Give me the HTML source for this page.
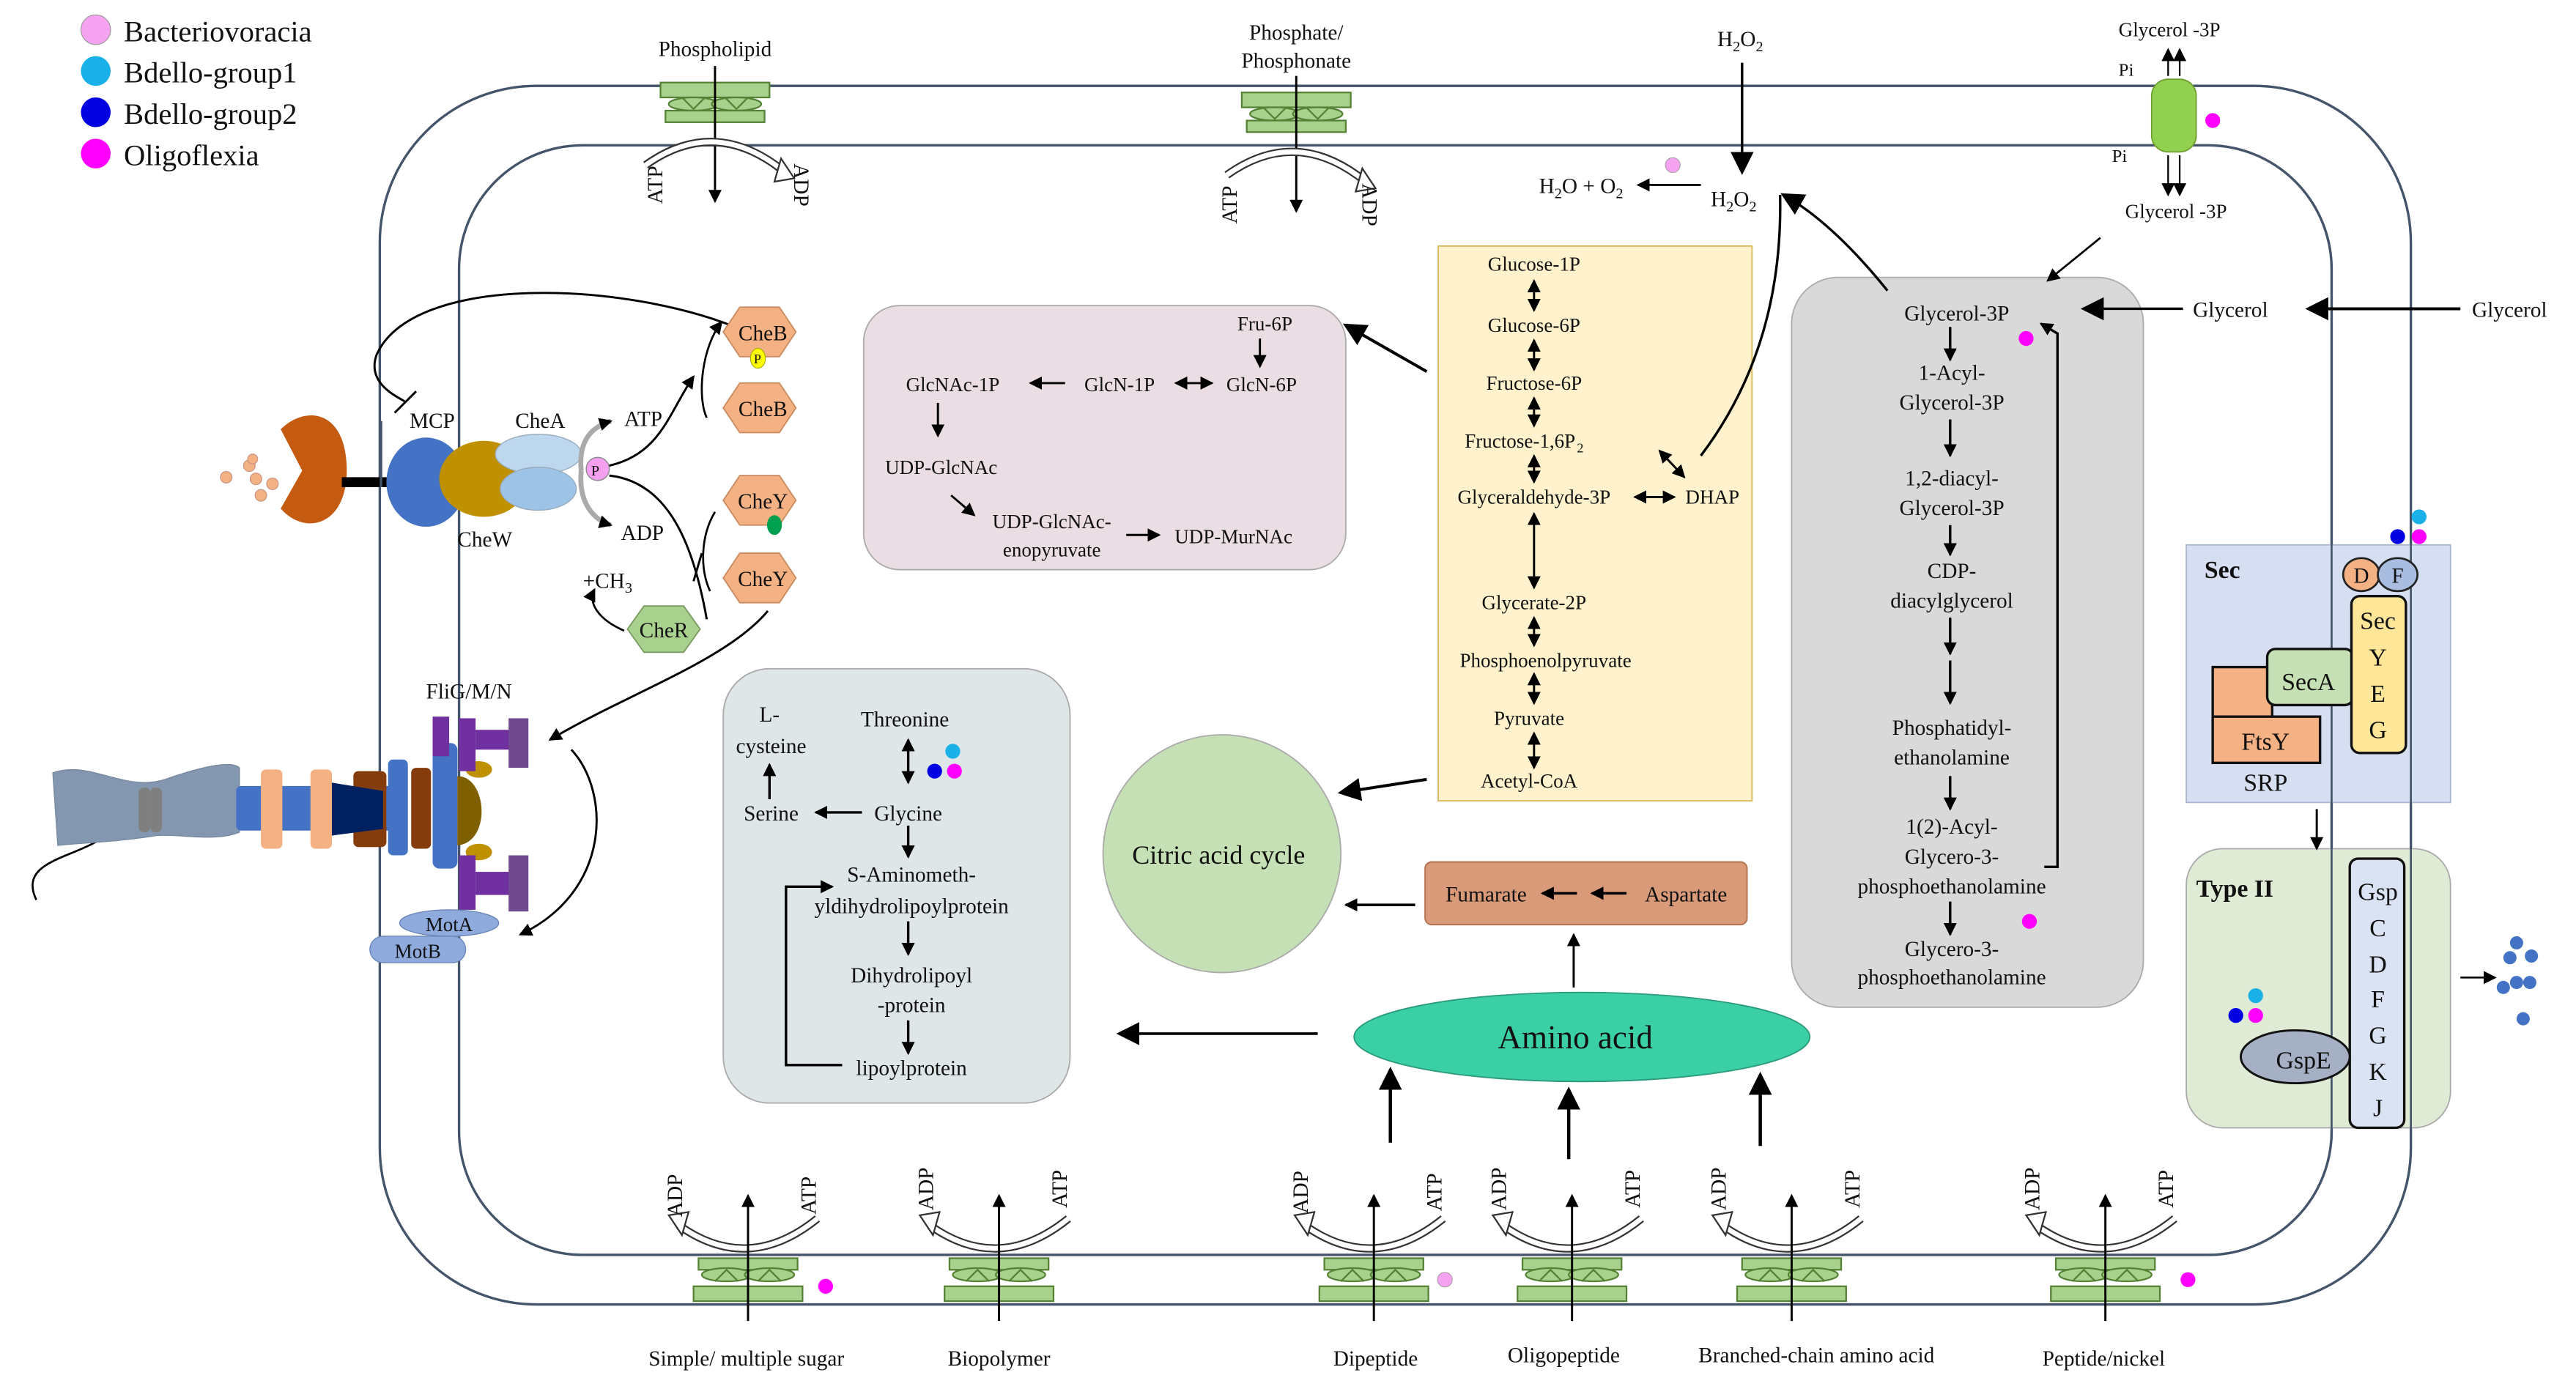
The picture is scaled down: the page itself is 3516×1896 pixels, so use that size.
<!DOCTYPE html>
<html><head><meta charset="utf-8"><style>
html,body{margin:0;padding:0;background:#fff;}
svg{display:block;}
text{font-family:"Liberation Serif",serif;fill:#111;}
</style></head><body>
<svg width="3516" height="1896" viewBox="0 0 1560 841.2" preserveAspectRatio="none" xmlns="http://www.w3.org/2000/svg">
<defs>
<marker id="a" markerWidth="8" markerHeight="8" refX="7" refY="4" orient="auto" markerUnits="userSpaceOnUse"><path d="M0,0 L8,4 L0,8 z" fill="#000"/></marker>
<marker id="b" markerWidth="14" markerHeight="14" refX="12" refY="7" orient="auto" markerUnits="userSpaceOnUse"><path d="M0,0 L14,7 L0,14 z" fill="#000"/></marker>
<marker id="as" markerWidth="8" markerHeight="8" refX="1" refY="4" orient="auto" markerUnits="userSpaceOnUse"><path d="M8,0 L0,4 L8,8 z" fill="#000"/></marker>
<g id="tb">
 <path d="M-42,742 Q0,772 42,738" fill="none" stroke="#333" stroke-width="5"/>
 <path d="M-42,742 Q0,772 42,738" fill="none" stroke="#fff" stroke-width="3"/>
 <path d="M-48,736 L-36,734 L-40,748 z" fill="#fff" stroke="#333"/>
 <rect x="-30" y="762" width="60" height="7" fill="#a9d18e" stroke="#548235"/>
 <ellipse cx="-13" cy="772" rx="15" ry="4" fill="#a9d18e" stroke="#548235"/>
 <ellipse cx="13" cy="772" rx="15" ry="4" fill="#a9d18e" stroke="#548235"/>
 <path d="M-20,776 L-13,769 L-6,776 M6,776 L13,769 L20,776" fill="none" stroke="#548235"/>
 <rect x="-33" y="779" width="66" height="9" fill="#a9d18e" stroke="#548235"/>
 <line x1="0" y1="800" x2="0" y2="724" stroke="#000" stroke-width="1.3" marker-end="url(#a)"/>
</g>
<g id="tt">
 <rect x="-33" y="50" width="66" height="9" fill="#a9d18e" stroke="#548235"/>
 <ellipse cx="-13" cy="63" rx="15" ry="4" fill="#a9d18e" stroke="#548235"/>
 <ellipse cx="13" cy="63" rx="15" ry="4" fill="#a9d18e" stroke="#548235"/>
 <path d="M-20,59 L-13,66 L-6,59 M6,59 L13,66 L20,59" fill="none" stroke="#548235"/>
 <rect x="-30" y="67" width="60" height="7" fill="#a9d18e" stroke="#548235"/>
 <line x1="0" y1="40" x2="0" y2="122" stroke="#000" stroke-width="1.3" marker-end="url(#a)"/>
 <path d="M-42,100 Q0,70 42,104" fill="none" stroke="#333" stroke-width="5"/>
 <path d="M-42,100 Q0,70 42,104" fill="none" stroke="#fff" stroke-width="3"/>
 <path d="M48,108 L36,110 L40,96 z" fill="#fff" stroke="#333"/>
</g>
</defs>

<!-- legend -->
<circle cx="58" cy="18" r="9" fill="#f5a3f0" stroke="#999" stroke-width="0.5"/>
<circle cx="58" cy="43" r="9" fill="#1ab0e8"/>
<circle cx="58" cy="68" r="9" fill="#0000e0"/>
<circle cx="58" cy="93" r="9" fill="#ff00ff"/>
<text x="75" y="25" font-size="18">Bacteriovoracia</text>
<text x="75" y="50" font-size="18">Bdello-group1</text>
<text x="75" y="75" font-size="18">Bdello-group2</text>
<text x="75" y="100" font-size="18">Oligoflexia</text>

<!-- membranes -->
<rect x="230" y="52" width="1230" height="738" rx="95" fill="none" stroke="#44546a" stroke-width="1.5"/>
<rect x="278" y="88" width="1134" height="672" rx="75" fill="none" stroke="#44546a" stroke-width="1.5"/>

<!-- boxes -->
<rect x="871" y="149" width="190" height="336" fill="#fff2cc" stroke="#d6b656" stroke-width="0.8"/>
<rect x="523" y="185" width="292" height="160" rx="22" fill="#eadde4" stroke="#aaa" stroke-width="0.8"/>
<rect x="1085" y="168" width="213" height="442" rx="28" fill="#d9d9d9" stroke="#aaa" stroke-width="0.8"/>
<rect x="438" y="405" width="210" height="263" rx="28" fill="#dee6e8" stroke="#aaa" stroke-width="0.8"/>
<circle cx="740" cy="517" r="72" fill="#c5e0b4" stroke="#aaa" stroke-width="0.8"/>
<rect x="863" y="522" width="195" height="38" rx="4" fill="#d99a79" stroke="#b07050" stroke-width="0.8"/>
<ellipse cx="958" cy="628" rx="138" ry="27" fill="#3acfa5" stroke="#2a9a7a" stroke-width="0.8"/>
<rect x="1324" y="330" width="160" height="156" fill="#d6dff2" stroke="#a9b5d0" stroke-width="0.8"/>
<rect x="1324" y="514" width="160" height="169" rx="22" fill="#dfebd5" stroke="#aaa" stroke-width="0.8"/>
<!-- redraw right membrane lines over boxes -->
<line x1="1412" y1="300" x2="1412" y2="690" stroke="#44546a" stroke-width="1.2"/>
<line x1="1460" y1="300" x2="1460" y2="690" stroke="#44546a" stroke-width="1.2"/>

<!-- top transporters -->
<use href="#tt" transform="translate(433,0)"/>
<use href="#tt" transform="translate(785,6)"/>
<text x="433" y="34" font-size="13" text-anchor="middle">Phospholipid</text>
<text x="785" y="24" font-size="13" text-anchor="middle">Phosphate/</text>
<text x="785" y="41" font-size="13" text-anchor="middle">Phosphonate</text>
<text transform="translate(401,112) rotate(-90)" font-size="13" text-anchor="middle">ATP</text>
<text transform="translate(481,112) rotate(90)" font-size="13" text-anchor="middle">ADP</text>
<text transform="translate(749,124) rotate(-90)" font-size="13" text-anchor="middle">ATP</text>
<text transform="translate(825,124) rotate(90)" font-size="13" text-anchor="middle">ADP</text>

<!-- H2O2 -->
<text x="1040" y="28" font-size="13">H<tspan font-size="9" dy="3">2</tspan><tspan dy="-3">O</tspan><tspan font-size="9" dy="3">2</tspan></text>
<line x1="1055" y1="38" x2="1055" y2="104" stroke="#000" stroke-width="1.5" marker-end="url(#b)"/>
<text x="1036" y="125" font-size="13">H<tspan font-size="9" dy="3">2</tspan><tspan dy="-3">O</tspan><tspan font-size="9" dy="3">2</tspan></text>
<line x1="1030" y1="112" x2="992" y2="112" stroke="#000" stroke-width="1.3" marker-end="url(#a)"/>
<text x="932" y="117" font-size="13">H<tspan font-size="9" dy="3">2</tspan><tspan dy="-3">O + O</tspan><tspan font-size="9" dy="3">2</tspan></text>
<circle cx="1013" cy="100" r="4.5" fill="#f5a3f0" stroke="#999" stroke-width="0.4"/>
<path d="M1030,276 Q1080,210 1078,118" fill="none" stroke="#000" stroke-width="1.5"/>
<path d="M1143,176 Q1110,135 1080,118" fill="none" stroke="#000" stroke-width="1.5" marker-end="url(#b)"/>

<!-- glycerol channel -->
<rect x="1303" y="48" width="27" height="44" rx="10" fill="#92d050" stroke="#70a030" stroke-width="0.8"/>
<circle cx="1340" cy="73" r="4.5" fill="#ff00ff"/>
<text x="1283" y="22" font-size="12">Glycerol -3P</text>
<text x="1283" y="46" font-size="11">Pi</text>
<text x="1279" y="98" font-size="11">Pi</text>
<text x="1287" y="132" font-size="12">Glycerol -3P</text>
<line x1="1313" y1="46" x2="1313" y2="30" stroke="#000" stroke-width="1" marker-end="url(#a)"/>
<line x1="1320" y1="46" x2="1320" y2="30" stroke="#000" stroke-width="1" marker-end="url(#a)"/>
<line x1="1313" y1="94" x2="1313" y2="118" stroke="#000" stroke-width="1" marker-end="url(#a)"/>
<line x1="1320" y1="94" x2="1320" y2="118" stroke="#000" stroke-width="1" marker-end="url(#a)"/>
<line x1="1272" y1="144" x2="1240" y2="170" stroke="#000" stroke-width="1.2" marker-end="url(#a)"/>
<text x="1497" y="192" font-size="13">Glycerol</text>
<line x1="1490" y1="187" x2="1398" y2="187" stroke="#000" stroke-width="1.8" marker-end="url(#b)"/>
<text x="1328" y="192" font-size="13">Glycerol</text>
<line x1="1322" y1="187" x2="1262" y2="187" stroke="#000" stroke-width="1.5" marker-end="url(#b)"/>

<!-- yellow glycolysis -->
<g font-size="12" text-anchor="middle">
<text x="929" y="164">Glucose-1P</text>
<text x="929" y="201">Glucose-6P</text>
<text x="929" y="236">Fructose-6P</text>
<text x="954" y="271" text-anchor="end">Fructose-1,6P</text><text x="957" y="274" font-size="8">2</text>
<text x="929" y="305">Glyceraldehyde-3P</text>
<text x="1037" y="305">DHAP</text>
<text x="929" y="369">Glycerate-2P</text>
<text x="936" y="404">Phosphoenolpyruvate</text>
<text x="926" y="439">Pyruvate</text>
<text x="926" y="477">Acetyl-CoA</text>
</g>
<g stroke="#000" stroke-width="1.3">
<line x1="929" y1="170" x2="929" y2="188" marker-end="url(#a)" marker-start="url(#as)"/>
<line x1="929" y1="206" x2="929" y2="224" marker-end="url(#a)" marker-start="url(#as)"/>
<line x1="929" y1="241" x2="929" y2="258" marker-end="url(#a)" marker-start="url(#as)"/>
<line x1="929" y1="276" x2="929" y2="292" marker-end="url(#a)" marker-start="url(#as)"/>
<line x1="929" y1="311" x2="929" y2="356" marker-end="url(#a)" marker-start="url(#as)"/>
<line x1="929" y1="374" x2="929" y2="391" marker-end="url(#a)" marker-start="url(#as)"/>
<line x1="929" y1="408" x2="929" y2="426" marker-end="url(#a)" marker-start="url(#as)"/>
<line x1="929" y1="444" x2="929" y2="465" marker-end="url(#a)" marker-start="url(#as)"/>
<line x1="990" y1="301" x2="1014" y2="301" marker-end="url(#a)" marker-start="url(#as)"/>
<line x1="1005" y1="273" x2="1020" y2="289" marker-end="url(#a)" marker-start="url(#as)"/>
</g>
<line x1="864" y1="225" x2="815" y2="197" stroke="#000" stroke-width="1.8" marker-end="url(#b)"/>
<line x1="864" y1="472" x2="812" y2="480" stroke="#000" stroke-width="1.8" marker-end="url(#b)"/>

<!-- pink box -->
<g font-size="12">
<text x="766" y="200" text-anchor="middle">Fru-6P</text>
<text x="764" y="237" text-anchor="middle">GlcN-6P</text>
<text x="678" y="237" text-anchor="middle">GlcN-1P</text>
<text x="577" y="237" text-anchor="middle">GlcNAc-1P</text>
<text x="570" y="287" text-anchor="middle">UDP-GlcNAc</text>
<text x="637" y="320" text-anchor="middle">UDP-GlcNAc-</text>
<text x="637" y="337" text-anchor="middle">enopyruvate</text>
<text x="747" y="329" text-anchor="middle">UDP-MurNAc</text>
</g>
<g stroke="#000" stroke-width="1.3">
<line x1="763" y1="205" x2="763" y2="222" marker-end="url(#a)"/>
<line x1="712" y1="232" x2="734" y2="232" marker-end="url(#a)" marker-start="url(#as)"/>
<line x1="645" y1="232" x2="624" y2="232" marker-end="url(#a)"/>
<line x1="568" y1="244" x2="568" y2="264" marker-end="url(#a)"/>
<line x1="576" y1="300" x2="590" y2="312" marker-end="url(#a)"/>
<line x1="682" y1="324" x2="702" y2="324" marker-end="url(#a)"/>
</g>

<!-- gray box -->
<g font-size="13" text-anchor="middle">
<text x="1185" y="194">Glycerol-3P</text>
<text x="1182" y="230">1-Acyl-</text>
<text x="1182" y="248">Glycerol-3P</text>
<text x="1182" y="294">1,2-diacyl-</text>
<text x="1182" y="312">Glycerol-3P</text>
<text x="1182" y="350">CDP-</text>
<text x="1182" y="368">diacylglycerol</text>
<text x="1182" y="445">Phosphatidyl-</text>
<text x="1182" y="463">ethanolamine</text>
<text x="1182" y="505">1(2)-Acyl-</text>
<text x="1182" y="523">Glycero-3-</text>
<text x="1182" y="541">phosphoethanolamine</text>
<text x="1182" y="579">Glycero-3-</text>
<text x="1182" y="596">phosphoethanolamine</text>
</g>
<circle cx="1227" cy="205" r="4.5" fill="#ff00ff"/>
<circle cx="1229" cy="558" r="4.5" fill="#ff00ff"/>
<g stroke="#000" stroke-width="1.5">
<line x1="1181" y1="198" x2="1181" y2="218" marker-end="url(#a)"/>
<line x1="1181" y1="254" x2="1181" y2="276" marker-end="url(#a)"/>
<line x1="1181" y1="318" x2="1181" y2="336" marker-end="url(#a)"/>
<line x1="1181" y1="374" x2="1181" y2="396" marker-end="url(#a)"/>
<line x1="1181" y1="400" x2="1181" y2="426" marker-end="url(#a)"/>
<line x1="1181" y1="470" x2="1181" y2="490" marker-end="url(#a)"/>
<line x1="1181" y1="546" x2="1181" y2="566" marker-end="url(#a)"/>
<polyline points="1238,525 1246,525 1246,202 1236,196" fill="none" marker-end="url(#a)"/>
</g>

<!-- blue-gray box amino acid -->
<g font-size="13" text-anchor="middle">
<text x="466" y="437">L-</text>
<text x="467" y="456">cysteine</text>
<text x="548" y="440">Threonine</text>
<text x="467" y="497">Serine</text>
<text x="550" y="497">Glycine</text>
<text x="552" y="534">S-Aminometh-</text>
<text x="552" y="553">yldihydrolipoylprotein</text>
<text x="552" y="595">Dihydrolipoyl</text>
<text x="552" y="613">-protein</text>
<text x="552" y="651">lipoylprotein</text>
</g>
<circle cx="577" cy="455" r="4.5" fill="#1ab0e8"/>
<circle cx="566" cy="467" r="4.5" fill="#0000e0"/>
<circle cx="578" cy="467" r="4.5" fill="#ff00ff"/>
<g stroke="#000" stroke-width="1.5">
<line x1="550" y1="448" x2="550" y2="474" marker-end="url(#a)" marker-start="url(#as)"/>
<line x1="522" y1="492" x2="494" y2="492" marker-end="url(#a)"/>
<line x1="466" y1="484" x2="466" y2="463" marker-end="url(#a)"/>
<line x1="550" y1="500" x2="550" y2="519" marker-end="url(#a)"/>
<line x1="550" y1="558" x2="550" y2="578" marker-end="url(#a)"/>
<line x1="550" y1="618" x2="550" y2="638" marker-end="url(#a)"/>
<polyline points="510,645 476,645 476,537 504,537" fill="none" marker-end="url(#a)"/>
</g>

<!-- TCA etc -->
<text x="738" y="523" font-size="16" text-anchor="middle">Citric acid cycle</text>
<text x="900" y="546" font-size="13" text-anchor="middle">Fumarate</text>
<text x="1021" y="546" font-size="13" text-anchor="middle">Aspartate</text>
<line x1="955" y1="541" x2="934" y2="541" stroke="#000" stroke-width="1.5" marker-end="url(#a)"/>
<line x1="985" y1="541" x2="964" y2="541" stroke="#000" stroke-width="1.5" marker-end="url(#a)"/>
<line x1="857" y1="548" x2="815" y2="548" stroke="#000" stroke-width="1.6" marker-end="url(#a)"/>
<line x1="953" y1="598" x2="953" y2="566" stroke="#000" stroke-width="1.3" marker-end="url(#a)"/>
<text x="954" y="635" font-size="20" text-anchor="middle">Amino acid</text>
<line x1="798" y1="626" x2="678" y2="626" stroke="#000" stroke-width="1.6" marker-end="url(#b)"/>
<line x1="842" y1="692" x2="842" y2="648" stroke="#000" stroke-width="2" marker-end="url(#b)"/>
<line x1="950" y1="702" x2="950" y2="660" stroke="#000" stroke-width="2" marker-end="url(#b)"/>
<line x1="1066" y1="694" x2="1066" y2="651" stroke="#000" stroke-width="2" marker-end="url(#b)"/>

<!-- bottom transporters -->
<use href="#tb" transform="translate(453,0)"/>
<use href="#tb" transform="translate(605,0)"/>
<use href="#tb" transform="translate(832,0)"/>
<use href="#tb" transform="translate(952,0)"/>
<use href="#tb" transform="translate(1085,0)"/>
<use href="#tb" transform="translate(1275,0)"/>
<g font-size="13">
<text transform="translate(413,724) rotate(-90)" text-anchor="middle">ADP</text>
<text transform="translate(494,724) rotate(-90)" text-anchor="middle">ATP</text>
<text transform="translate(565,720) rotate(-90)" text-anchor="middle">ADP</text>
<text transform="translate(646,720) rotate(-90)" text-anchor="middle">ATP</text>
<text transform="translate(792,722) rotate(-90)" text-anchor="middle">ADP</text>
<text transform="translate(873,722) rotate(-90)" text-anchor="middle">ATP</text>
<text transform="translate(912,720) rotate(-90)" text-anchor="middle">ADP</text>
<text transform="translate(993,720) rotate(-90)" text-anchor="middle">ATP</text>
<text transform="translate(1045,720) rotate(-90)" text-anchor="middle">ADP</text>
<text transform="translate(1126,720) rotate(-90)" text-anchor="middle">ATP</text>
<text transform="translate(1235,720) rotate(-90)" text-anchor="middle">ADP</text>
<text transform="translate(1316,720) rotate(-90)" text-anchor="middle">ATP</text>
</g>
<circle cx="500" cy="779" r="4.5" fill="#ff00ff"/>
<circle cx="875" cy="775" r="4.5" fill="#f5a3f0" stroke="#999" stroke-width="0.4"/>
<circle cx="1325" cy="775" r="4.5" fill="#ff00ff"/>
<g font-size="13" text-anchor="middle">
<text x="452" y="827">Simple/ multiple sugar</text>
<text x="605" y="827">Biopolymer</text>
<text x="833" y="827">Dipeptide</text>
<text x="947" y="825">Oligopeptide</text>
<text x="1100" y="825">Branched-chain amino acid</text>
<text x="1274" y="827">Peptide/nickel</text>
</g>

<!-- Sec -->
<text x="1335" y="350" font-size="15" font-weight="bold">Sec</text>
<circle cx="1465" cy="313" r="4.5" fill="#1ab0e8"/>
<circle cx="1452" cy="325" r="4.5" fill="#0000e0"/>
<circle cx="1465" cy="325" r="4.5" fill="#ff00ff"/>
<ellipse cx="1430" cy="348" rx="11" ry="10" fill="#f4b183" stroke="#222" stroke-width="1.2"/>
<ellipse cx="1452" cy="348" rx="12" ry="10" fill="#a9bde0" stroke="#222" stroke-width="1.2"/>
<text x="1430" y="353" font-size="13" text-anchor="middle">D</text>
<text x="1452" y="353" font-size="13" text-anchor="middle">F</text>
<rect x="1340" y="404" width="36" height="58" fill="#f4b183" stroke="#111" stroke-width="1.5"/>
<rect x="1340" y="434" width="65" height="28" fill="#f4b183" stroke="#111" stroke-width="1.5"/>
<rect x="1341" y="435" width="34" height="26" fill="#f4b183"/>
<rect x="1373" y="393" width="52" height="34" rx="5" fill="#c5e0b4" stroke="#111" stroke-width="1.5"/>
<text x="1398" y="418" font-size="15" text-anchor="middle">SecA</text>
<text x="1372" y="454" font-size="15" text-anchor="middle">FtsY</text>
<text x="1372" y="479" font-size="15" text-anchor="middle">SRP</text>
<rect x="1424" y="361" width="33" height="95" rx="5" fill="#ffe699" stroke="#111" stroke-width="1.5"/>
<g font-size="15" text-anchor="middle"><text x="1440" y="381">Sec</text><text x="1440" y="403">Y</text><text x="1440" y="425">E</text><text x="1440" y="447">G</text></g>
<line x1="1403" y1="490" x2="1403" y2="514" stroke="#000" stroke-width="1.3" marker-end="url(#a)"/>

<!-- Type II -->
<text x="1330" y="543" font-size="15" font-weight="bold">Type  II</text>
<rect x="1423" y="520" width="33" height="163" rx="5" fill="#dae3f3" stroke="#111" stroke-width="1.5"/>
<g font-size="15" text-anchor="middle"><text x="1440" y="545">Gsp</text><text x="1440" y="567">C</text><text x="1440" y="589">D</text><text x="1440" y="610">F</text><text x="1440" y="632">G</text><text x="1440" y="654">K</text><text x="1440" y="676">J</text></g>
<ellipse cx="1390" cy="640" rx="33" ry="16" fill="#a6b0c4" stroke="#111" stroke-width="1.3"/>
<text x="1395" y="647" font-size="15" text-anchor="middle">GspE</text>
<circle cx="1366" cy="603" r="4.5" fill="#1ab0e8"/>
<circle cx="1354" cy="615" r="4.5" fill="#0000e0"/>
<circle cx="1366" cy="615" r="4.5" fill="#ff00ff"/>
<line x1="1490" y1="592" x2="1511" y2="592" stroke="#000" stroke-width="1.2" marker-end="url(#a)"/>
<g fill="#4472c4"><circle cx="1524" cy="571" r="4"/><circle cx="1533" cy="579" r="4"/><circle cx="1520" cy="580" r="4"/><circle cx="1516" cy="598" r="4"/><circle cx="1524" cy="595" r="4"/><circle cx="1532" cy="595" r="4"/><circle cx="1528" cy="617" r="4"/></g>

<!-- chemotaxis -->
<path d="M450,200 C380,170 250,165 228,215 C222,232 240,240 245,243" fill="none" stroke="#000" stroke-width="1.3"/>
<line x1="239" y1="250" x2="252" y2="237" stroke="#000" stroke-width="1.3"/>
<g fill="#f4b183" stroke="#c98" stroke-width="0.6"><circle cx="137" cy="289" r="3.5"/><circle cx="151" cy="282" r="3.5"/><circle cx="155" cy="290" r="3.5"/><circle cx="158" cy="300" r="3.5"/><circle cx="153" cy="278" r="3"/><circle cx="165" cy="293" r="3.5"/></g>
<path d="M170,260 C185,245 210,248 210,285 C210,318 185,325 170,308 L183,285 Z" fill="#c55a11"/>
<rect x="207" y="289" width="50" height="6" fill="#000"/>
<ellipse cx="258" cy="292" rx="24" ry="27" fill="#4472c4"/>
<ellipse cx="293" cy="290" rx="27" ry="23" fill="#bf9000"/>
<ellipse cx="326" cy="275" rx="26" ry="12" fill="#bdd7ee" stroke="#9ab" stroke-width="0.6"/>
<ellipse cx="326" cy="296" rx="23" ry="13" fill="#9dc3e6" stroke="#9ab" stroke-width="0.6"/>
<rect x="230" y="255" width="1.5" height="40" fill="#44546a"/>
<text x="248" y="259" font-size="13">MCP</text>
<text x="312" y="259" font-size="13">CheA</text>
<text x="277" y="331" font-size="13">CheW</text>
<circle cx="362" cy="284" r="7" fill="#f59ff0" stroke="#888" stroke-width="0.6"/>
<text x="358" y="288" font-size="9">P</text>
<path d="M352,285 C350,265 360,258 370,255" fill="none" stroke="#aaa" stroke-width="3" marker-end="url(#a)"/>
<path d="M352,285 C350,305 360,315 370,318" fill="none" stroke="#aaa" stroke-width="3" marker-end="url(#a)"/>
<text x="378" y="258" font-size="13">ATP</text>
<text x="376" y="327" font-size="13">ADP</text>
<path d="M369,282 C400,275 405,250 420,228" fill="none" stroke="#000" stroke-width="1.3" marker-end="url(#a)"/>
<path d="M369,288 C405,292 420,330 428,375" fill="none" stroke="#000" stroke-width="1.3"/>
<path d="M425,335 L420,352" stroke="#000" stroke-width="1.3"/>
<path d="M437,195 C425,210 422,240 428,253" fill="none" stroke="#000" stroke-width="1.2" marker-start="url(#as)"/>
<path d="M433,310 C424,325 424,345 430,358" fill="none" stroke="#000" stroke-width="1.2"/>
<path d="M378,382 C362,375 356,365 360,357" fill="none" stroke="#000" stroke-width="1.2" marker-end="url(#a)"/>
<text x="353" y="356" font-size="13">+CH<tspan font-size="9" dy="3">3</tspan></text>
<g stroke="#c98a5e" stroke-width="0.8" fill="#f4b183">
<polygon points="448,186 472,186 482,201 472,216 448,216 438,201"/>
<polygon points="448,232 472,232 482,247 472,262 448,262 438,247"/>
<polygon points="448,288 472,288 482,303 472,318 448,318 438,303"/>
<polygon points="448,335 472,335 482,350 472,365 448,365 438,350"/>
</g>
<polygon points="390,367 414,367 424,381 414,395 390,395 380,381" fill="#a9d18e" stroke="#7a9a60" stroke-width="0.8"/>
<g font-size="13" text-anchor="middle"><text x="462" y="206">CheB</text><text x="462" y="252">CheB</text><text x="462" y="308">CheY</text><text x="462" y="355">CheY</text><text x="402" y="386">CheR</text></g>
<ellipse cx="459" cy="217" rx="4.5" ry="6" fill="#ffff00" stroke="#aa0" stroke-width="0.5"/>
<text x="456.5" y="220" font-size="8">P</text>
<ellipse cx="469" cy="318" rx="4.5" ry="6" fill="#00a050"/>
<path d="M465,370 C440,400 380,420 333,448" fill="none" stroke="#000" stroke-width="1.3" marker-end="url(#a)"/>
<path d="M346,454 C370,480 370,540 315,566" fill="none" stroke="#000" stroke-width="1.3" marker-end="url(#a)"/>

<!-- flagellum -->
<path d="M22,545 C10,520 48,520 65,505" fill="none" stroke="#000" stroke-width="1.2"/>
<path d="M32,468 C55,460 75,480 100,472 C120,465 140,460 145,465 L145,504 C130,510 110,505 95,506 C70,510 55,510 35,512 Z" fill="#8497b0" stroke="#7789a0" stroke-width="0.6"/>
<rect x="84" y="477" width="7" height="27" rx="3" fill="#7f7f7f"/>
<rect x="91" y="477" width="7" height="27" rx="3" fill="#7f7f7f"/>
<rect x="143" y="476" width="95" height="27" rx="3" fill="#4472c4"/>
<rect x="158" y="466" width="13" height="48" rx="3" fill="#f4b183"/>
<rect x="188" y="466" width="13" height="48" rx="3" fill="#f4b183"/>
<polygon points="201,474 230,479 230,500 201,506" fill="#002060"/>
<rect x="214" y="467" width="20" height="46" rx="3" fill="#843c0c"/>
<polygon points="201,474 232,479 232,502 201,506" fill="#002060"/>
<rect x="235" y="460" width="12" height="58" rx="3" fill="#4472c4"/>
<rect x="249" y="465" width="12" height="49" rx="3" fill="#843c0c"/>
<rect x="262" y="450" width="15" height="76" rx="4" fill="#4472c4"/>
<path d="M277,470 C295,470 298,510 277,512 Z" fill="#7f6000"/>
<ellipse cx="290" cy="466" rx="8" ry="5" fill="#bf9000"/>
<ellipse cx="290" cy="516" rx="8" ry="5" fill="#bf9000"/>
<g fill="#7030a0"><rect x="262" y="434" width="10" height="24"/><rect x="278" y="435" width="10" height="32"/><rect x="288" y="442" width="22" height="12"/><rect x="308" y="435" width="12" height="30" fill="#6f4a8e"/>
<rect x="278" y="518" width="10" height="33"/><rect x="288" y="528" width="22" height="14"/><rect x="308" y="518" width="12" height="34" fill="#6f4a8e"/></g>
<text x="258" y="423" font-size="13">FliG/M/N</text>
<ellipse cx="272" cy="559" rx="30" ry="8" fill="#8faadc" stroke="#6b86b8" stroke-width="0.6"/>
<text x="272" y="564" font-size="12" text-anchor="middle">MotA</text>
<rect x="224" y="567" width="58" height="16" rx="8" fill="#8faadc" stroke="#6b86b8" stroke-width="0.6"/>
<text x="253" y="580" font-size="12" text-anchor="middle">MotB</text>
</svg>
</body></html>
